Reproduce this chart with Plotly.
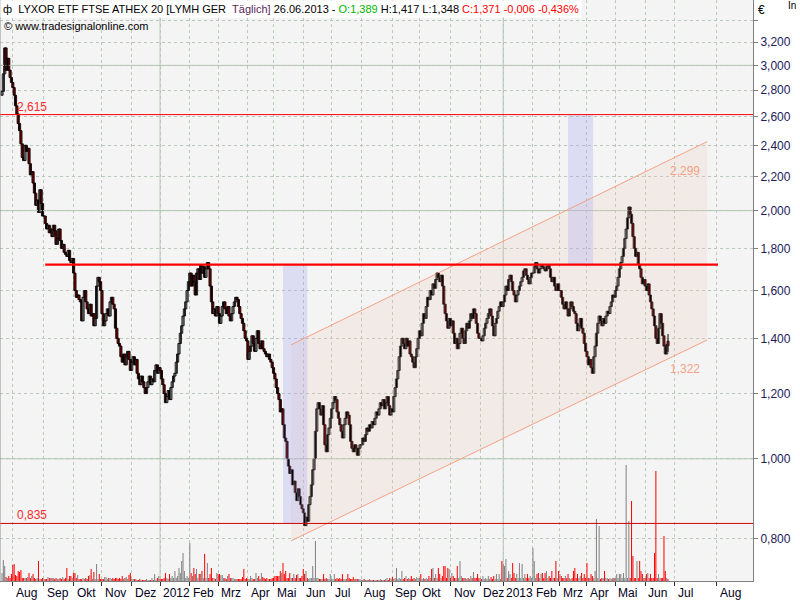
import math
import plotly.graph_objects as go

# ------------------------------------------------------------------
# DATA (daily closes per month; volumes per day)
# ------------------------------------------------------------------
c_2011_07 = [2.79, 2.93, 3.15, 2.96, 3.06, 2.96, 2.90, 2.86]
c_2011_08 = [2.82, 2.76, 2.68, 2.62, 2.55, 2.50, 2.41, 2.32, 2.30, 2.40, 2.36, 2.38, 2.28, 2.21, 2.23, 2.16, 2.10, 2.03, 2.06, 1.99, 2.12, 2.04, 1.97]
c_2011_09 = [1.97, 1.93, 1.90, 1.92, 1.88, 1.90, 1.86, 1.92, 1.89, 1.82, 1.85, 1.90, 1.84, 1.80, 1.82, 1.78, 1.77, 1.76, 1.79, 1.74, 1.73, 1.75]
c_2011_10 = [1.68, 1.60, 1.57, 1.58, 1.56, 1.55, 1.47, 1.57, 1.60, 1.55, 1.52, 1.50, 1.54, 1.49, 1.50, 1.45, 1.48, 1.62, 1.66, 1.64, 1.60]
c_2011_11 = [1.50, 1.45, 1.47, 1.50, 1.52, 1.49, 1.55, 1.57, 1.54, 1.52, 1.44, 1.40, 1.38, 1.37, 1.33, 1.31, 1.34, 1.30, 1.33, 1.35, 1.32, 1.28]
c_2011_12 = [1.31, 1.33, 1.30, 1.32, 1.27, 1.25, 1.23, 1.26, 1.24, 1.22, 1.20, 1.22, 1.24, 1.26, 1.23, 1.25, 1.24, 1.28, 1.30, 1.27, 1.29]
c_2012_01 = [1.28, 1.25, 1.23, 1.20, 1.17, 1.19, 1.21, 1.18, 1.22, 1.24, 1.26, 1.27, 1.31, 1.34, 1.38, 1.42, 1.45, 1.49, 1.52, 1.55, 1.60, 1.64]
c_2012_02 = [1.68, 1.62, 1.67, 1.64, 1.58, 1.68, 1.70, 1.65, 1.72, 1.68, 1.71, 1.66, 1.70, 1.73, 1.70, 1.62, 1.55, 1.50, 1.52, 1.49, 1.53]
c_2012_03 = [1.50, 1.46, 1.49, 1.53, 1.55, 1.52, 1.50, 1.53, 1.49, 1.47, 1.50, 1.53, 1.55, 1.57, 1.56, 1.53, 1.50, 1.48, 1.46, 1.43, 1.40, 1.39]
c_2012_04 = [1.32, 1.35, 1.37, 1.41, 1.38, 1.35, 1.40, 1.43, 1.38, 1.36, 1.39, 1.36, 1.35, 1.34, 1.33, 1.34, 1.32, 1.31, 1.29]
c_2012_05 = [1.27, 1.25, 1.22, 1.20, 1.18, 1.14, 1.15, 1.10, 1.06, 1.05, 1.00, 0.98, 0.96, 0.97, 0.93, 0.94, 0.91, 0.89, 0.92, 0.90, 0.88, 0.87]
c_2012_06 = [0.86, 0.83, 0.85, 0.84, 0.88, 0.90, 0.93, 0.97, 1.00, 1.08, 1.15, 1.17, 1.15, 1.13, 1.16, 1.10, 1.04, 1.02, 1.07, 1.09, 1.12]
c_2012_07 = [1.15, 1.17, 1.19, 1.18, 1.14, 1.12, 1.10, 1.08, 1.06, 1.10, 1.12, 1.14, 1.13, 1.10, 1.05, 1.03, 1.02, 1.04, 1.03, 1.01, 1.03, 1.04]
c_2012_08 = [1.04, 1.06, 1.05, 1.07, 1.09, 1.08, 1.10, 1.09, 1.11, 1.10, 1.12, 1.14, 1.13, 1.15, 1.17, 1.16, 1.18, 1.15, 1.17, 1.19, 1.16, 1.13, 1.15]
c_2012_09 = [1.14, 1.19, 1.22, 1.25, 1.28, 1.33, 1.37, 1.40, 1.38, 1.36, 1.40, 1.37, 1.39, 1.34, 1.33, 1.31, 1.29, 1.33, 1.36, 1.40]
c_2012_10 = [1.43, 1.41, 1.46, 1.50, 1.48, 1.53, 1.57, 1.56, 1.60, 1.58, 1.63, 1.61, 1.65, 1.68, 1.66, 1.64, 1.67, 1.62, 1.54, 1.50, 1.47, 1.44, 1.48]
c_2012_11 = [1.45, 1.47, 1.42, 1.38, 1.40, 1.36, 1.38, 1.42, 1.44, 1.40, 1.38, 1.43, 1.46, 1.44, 1.47, 1.50, 1.48, 1.52, 1.50, 1.46, 1.42, 1.40]
c_2012_12 = [1.40, 1.39, 1.41, 1.44, 1.46, 1.48, 1.50, 1.52, 1.49, 1.45, 1.41, 1.46, 1.48, 1.51, 1.53, 1.55, 1.53]
c_2013_01 = [1.55, 1.58, 1.62, 1.60, 1.65, 1.67, 1.64, 1.60, 1.58, 1.55, 1.58, 1.60, 1.62, 1.64, 1.66, 1.69, 1.70, 1.67, 1.65, 1.63, 1.66, 1.68]
c_2013_02 = [1.68, 1.71, 1.73, 1.70, 1.68, 1.70, 1.72, 1.71, 1.70, 1.69, 1.71, 1.72, 1.70, 1.66, 1.64, 1.66, 1.62, 1.60, 1.63, 1.60]
c_2013_03 = [1.60, 1.57, 1.54, 1.52, 1.55, 1.52, 1.49, 1.52, 1.55, 1.53, 1.51, 1.50, 1.46, 1.43, 1.45, 1.48, 1.44, 1.42, 1.38, 1.35]
c_2013_04 = [1.33, 1.30, 1.32, 1.29, 1.27, 1.33, 1.37, 1.42, 1.46, 1.49, 1.47, 1.45, 1.48, 1.46, 1.49, 1.51, 1.50, 1.53, 1.55, 1.58, 1.57]
c_2013_05 = [1.60, 1.62, 1.66, 1.70, 1.73, 1.76, 1.80, 1.85, 1.90, 1.96, 2.02, 1.98, 1.93, 1.86, 1.80, 1.76, 1.78, 1.72, 1.70, 1.66, 1.63, 1.65]
c_2013_06 = [1.62, 1.60, 1.63, 1.58, 1.55, 1.52, 1.49, 1.45, 1.40, 1.38, 1.44, 1.50, 1.46, 1.41, 1.37, 1.34, 1.377, 1.371]

v_2011_07 = [8, 21, 15, 4, 3, 5, 3, 7]
v_2011_08 = [16, 17, 6, 5, 10, 9, 11, 3, 3, 3, 3, 4, 8, 3, 5, 7, 3, 2, 3, 20, 2, 2, 3]
v_2011_09 = [2, 2, 2, 4, 3, 3, 3, 3, 2, 3, 2, 2, 3, 2, 4, 2, 3, 13, 2, 5, 5, 3]
v_2011_10 = [8, 8, 3, 6, 2, 2, 2, 3, 2, 3, 2, 5, 6, 12, 2, 9, 2, 17, 2, 7, 2]
v_2011_11 = [2, 2, 4, 4, 2, 3, 3, 2, 3, 2, 3, 3, 2, 3, 2, 5, 2, 3, 4, 2, 6, 8]
v_2011_12 = [2, 2, 2, 2, 1, 1, 2, 1, 1, 1, 1, 2, 1, 1, 1, 3, 1, 7, 1, 3, 5]
v_2012_01 = [2, 2, 2, 3, 8, 3, 2, 7, 3, 5, 3, 10, 3, 5, 13, 8, 20, 28, 10, 3, 5, 3]
v_2012_02 = [38, 8, 5, 13, 7, 12, 3, 7, 7, 10, 3, 27, 3, 18, 3, 7, 13, 3, 3, 2, 8]
v_2012_03 = [7, 7, 6, 6, 3, 3, 2, 5, 7, 3, 3, 3, 2, 2, 2, 2, 2, 2, 4, 12, 2, 3]
v_2012_04 = [2, 2, 5, 3, 2, 2, 8, 3, 5, 2, 8, 4, 3, 2, 3, 2, 2, 2, 3]
v_2012_05 = [3, 5, 5, 5, 5, 10, 8, 18, 7, 10, 3, 3, 8, 3, 3, 7, 3, 6, 7, 3, 3, 5]
v_2012_06 = [12, 7, 10, 3, 2, 3, 3, 15, 3, 40, 3, 3, 2, 2, 2, 7, 2, 3, 2, 2, 7]
v_2012_07 = [2, 2, 7, 2, 3, 2, 3, 2, 7, 2, 2, 2, 7, 3, 2, 2, 4, 2, 2, 2, 2, 2]
v_2012_08 = [1, 1, 2, 1, 1, 1, 2, 1, 1, 1, 1, 1, 1, 1, 2, 1, 1, 1, 2, 3, 1, 3, 2]
v_2012_09 = [4, 2, 3, 13, 2, 3, 2, 10, 2, 3, 5, 2, 3, 2, 5, 2, 3, 2, 4, 3]
v_2012_10 = [3, 7, 2, 3, 2, 3, 2, 5, 3, 12, 13, 3, 7, 3, 13, 7, 3, 5, 15, 15, 3, 13, 12]
v_2012_11 = [3, 8, 5, 3, 3, 15, 3, 20, 5, 3, 3, 3, 2, 3, 2, 5, 3, 9, 3, 3, 7, 3]
v_2012_12 = [3, 2, 5, 2, 3, 2, 5, 2, 4, 2, 5, 2, 7, 2, 7, 2, 20]
v_2013_01 = [17, 15, 22, 3, 10, 7, 3, 18, 8, 3, 7, 3, 18, 3, 17, 3, 7, 3, 7, 3, 5, 3]
v_2013_02 = [33, 20, 3, 7, 8, 3, 7, 8, 3, 8, 10, 3, 5, 3, 10, 3, 3, 20, 3, 10]
v_2013_03 = [7, 5, 3, 3, 5, 3, 7, 3, 2, 3, 10, 13, 3, 7, 3, 5, 8, 3, 7, 3]
v_2013_04 = [18, 3, 3, 7, 5, 3, 10, 62, 3, 55, 2, 3, 3, 10, 3, 3, 2, 3, 2, 3, 3]
v_2013_05 = [3, 7, 3, 7, 7, 3, 8, 3, 116, 3, 60, 3, 80, 25, 3, 3, 20, 3, 20, 10, 7, 3]
v_2013_06 = [3, 7, 8, 3, 7, 3, 3, 28, 110, 3, 7, 3, 3, 3, 45, 10, 3, 2]

month_labels = ["", "Aug", "Sep", "Okt", "Nov", "Dez", "2012", "Feb", "Mrz", "Apr", "Mai", "Jun",
                "Jul", "Aug", "Sep", "Okt", "Nov", "Dez", "2013", "Feb", "Mrz", "Apr", "Mai", "Jun"]
future_labels = ["Jul", "Aug"]
future_days = [5, 36]          # calendar days after the last bar (26.06.2013)
year_labels = ["2012", "2013"]

first_open = 2.76
last_open, last_high, last_low, last_close = 1.389, 1.417, 1.348, 1.371
last_change, last_change_pct = -0.006, -0.436

y_ticks = [0.8, 1.0, 1.2, 1.4, 1.6, 1.8, 2.0, 2.2, 2.4, 2.6, 2.8, 3.0, 3.2, 3.4]
solid_levels = [1.0, 2.0, 3.0]

resist_level = 1.72
resist_from, resist_to = 32, 530           # bar indices
top_level = 2.615
bottom_level = 0.835
band1_bars, band2_bars = (208, 226), (419, 437.5)

chan_start = 214
chan_end = 522
chan_upper_start, chan_upper_last = 1.375, 2.299
chan_lower_start, chan_lower_last = 0.7954, 1.322

# ------------------------------------------------------------------
closes_by_month = [c_2011_07, c_2011_08, c_2011_09, c_2011_10, c_2011_11, c_2011_12,
                   c_2012_01, c_2012_02, c_2012_03, c_2012_04, c_2012_05, c_2012_06,
                   c_2012_07, c_2012_08, c_2012_09, c_2012_10, c_2012_11, c_2012_12,
                   c_2013_01, c_2013_02, c_2013_03, c_2013_04, c_2013_05, c_2013_06]
vols_by_month = [v_2011_07, v_2011_08, v_2011_09, v_2011_10, v_2011_11, v_2011_12,
                 v_2012_01, v_2012_02, v_2012_03, v_2012_04, v_2012_05, v_2012_06,
                 v_2012_07, v_2012_08, v_2012_09, v_2012_10, v_2012_11, v_2012_12,
                 v_2013_01, v_2013_02, v_2013_03, v_2013_04, v_2013_05, v_2013_06]

closes, vols, month_start = [], [], []
for cm, vm in zip(closes_by_month, vols_by_month):
    assert len(cm) == len(vm), (len(cm), len(vm))
    month_start.append(len(closes))
    closes += cm
    vols += vm
n = len(closes)
last = n - 1
idx = list(range(n))
opens = [first_open] + closes[:-1]
opens[-1] = last_open
highs = [max(o, c) for o, c in zip(opens, closes)]
lows = [min(o, c) for o, c in zip(opens, closes)]
highs[-1], lows[-1] = last_high, last_low
is_down = [c < o for o, c in zip(opens, closes)]
vol_colors = ["#ff0000" if d else "#808080" for d in is_down]
body_colors = ["#ff0000" if d else "#ffffff" for d in is_down]
body_base = [min(o, c) for o, c in zip(opens, closes)]
body_size = [abs(c - o) for o, c in zip(opens, closes)]

tick_pos = month_start[1:] + [last + d for d in future_days]
tick_txt = month_labels[1:] + future_labels

# layout geometry
W, H = 800, 600
PL, PR, PT, PB = 0, 47, 0, 19
PW, PH = W - PL - PR, H - PT - PB
X_RANGE = [-1.48, 555.9]
Y_RANGE = [math.log10(0.711), math.log10(3.601)]

def px_x(p):
    return p / PW

def px_y(p):
    return 1 - p / PH

def fmt(v, d=3):
    return f"{v:.{d}f}".replace(".", ",")

def chan_val(start, lastv, i):
    a, b = math.log10(start), math.log10(lastv)
    return 10 ** (a + (b - a) * (i - chan_start) / (last - chan_start))

FONT = "Liberation Sans, Arial, sans-serif"
GRID = "#b9c9b9"
fig = go.Figure()

# volume (underlying linear axis)
fig.add_trace(go.Bar(x=idx, y=vols, marker=dict(color=vol_colors, line=dict(width=0)),
                     width=0.75, yaxis="y", xaxis="x", showlegend=False, hoverinfo="skip"))

# solid horizontal grid lines
for lv in solid_levels:
    fig.add_trace(go.Scatter(x=X_RANGE, y=[lv, lv], mode="lines", yaxis="y2",
                             line=dict(color="#b3c6b3", width=1), showlegend=False, hoverinfo="skip"))

# channel fill
cu = [chan_val(chan_upper_start, chan_upper_last, i) for i in (chan_start, chan_end)]
cl = [chan_val(chan_lower_start, chan_lower_last, i) for i in (chan_start, chan_end)]
fig.add_trace(go.Scatter(x=[chan_start, chan_end, chan_end, chan_start, chan_start],
                         y=[cu[0], cu[1], cl[1], cl[0], cu[0]], mode="lines", fill="toself",
                         fillcolor="rgba(235,200,180,0.22)", line=dict(width=0), yaxis="y2",
                         showlegend=False, hoverinfo="skip"))

# blue bands
for (b0, b1), (lo, hi) in [(band1_bars, (bottom_level, resist_level)),
                           (band2_bars, (resist_level, top_level))]:
    fig.add_trace(go.Scatter(x=[b0, b1, b1, b0, b0], y=[lo, lo, hi, hi, lo], mode="lines",
                             fill="toself", fillcolor="rgba(170,170,240,0.32)", line=dict(width=0),
                             yaxis="y2", showlegend=False, hoverinfo="skip"))

# channel lines
for ys in (cu, cl):
    fig.add_trace(go.Scatter(x=[chan_start, chan_end], y=ys, mode="lines", yaxis="y2",
                             line=dict(color="#f3a285", width=1), showlegend=False, hoverinfo="skip"))

# candle wicks (high-low)
wx, wy = [], []
for i in idx:
    wx += [i, i, None]
    wy += [lows[i], highs[i], None]
fig.add_trace(go.Scatter(x=wx, y=wy, mode="lines", yaxis="y2", line=dict(color="#000000", width=1),
                         showlegend=False, hoverinfo="skip"))
# candle bodies (open-close), chronological so later candles overlap earlier ones
fig.add_trace(go.Bar(x=idx, y=body_size, base=body_base, width=1.6, yaxis="y2", xaxis="x",
                     marker=dict(color=body_colors, line=dict(color="#000000", width=0.9)),
                     showlegend=False, hoverinfo="skip"))

# red horizontal lines
fig.add_trace(go.Scatter(x=X_RANGE, y=[top_level, top_level], mode="lines", yaxis="y2",
                         line=dict(color="#ff0000", width=1), showlegend=False, hoverinfo="skip"))
fig.add_trace(go.Scatter(x=X_RANGE, y=[bottom_level, bottom_level], mode="lines", yaxis="y2",
                         line=dict(color="#d00000", width=1), showlegend=False, hoverinfo="skip"))
fig.add_trace(go.Scatter(x=[resist_from, resist_to], y=[resist_level, resist_level], mode="lines",
                         yaxis="y2", line=dict(color="#ff0000", width=2.4), showlegend=False,
                         hoverinfo="skip"))

shapes = []
for yl in year_labels:
    xi = tick_pos[tick_txt.index(yl)]
    shapes.append(dict(type="line", xref="x", yref="paper", x0=xi, x1=xi, y0=0, y1=1,
                       line=dict(color="#b3c6b3", width=1), layer="below"))
shapes.append(dict(type="line", xref="paper", yref="paper", x0=0, x1=0, y0=0, y1=1,
                   line=dict(color="#909090", width=1)))

ann = []
for xp, t in zip(tick_pos, tick_txt):
    ann.append(dict(x=xp, xref="x", y=0, yref="paper", text=t, showarrow=False,
                    xanchor="left", yanchor="middle", xshift=1, yshift=-12,
                    font=dict(family=FONT, size=12, color="#000020")))

title = ("ф  LYXOR ETF FTSE ATHEX 20 [LYMH GER\u00a0\u00a0<span style='color:#5a1f5a'>Täglich]</span> "
         "26.06.2013 - <span style='color:#00b400'>O:" + fmt(last_open) + "</span> H:" + fmt(last_high) +
         " L:" + fmt(last_low) + " <span style='color:#ff0000'>C:" + fmt(last_close) + " " +
         fmt(last_change) + " " + fmt(last_change_pct) + "%</span>")
ann.append(dict(x=0, xref="paper", y=1, yref="paper", text=title, showarrow=False,
                xanchor="left", yanchor="top", bgcolor="#ffffff", borderpad=2,
                font=dict(family=FONT, size=11, color="#000000")))
ann.append(dict(x=px_x(2), xref="paper", y=px_y(26), yref="paper",
                text="© www.tradesignalonline.com", showarrow=False, xanchor="left",
                yanchor="middle", font=dict(family=FONT, size=11, color="#000000")))
ann.append(dict(x=px_x(15), xref="paper", y=math.log10(top_level), yref="y2", text=fmt(top_level),
                showarrow=False, xanchor="left", yanchor="bottom", yshift=-1,
                font=dict(family=FONT, size=12, color="#ff2a2a")))
ann.append(dict(x=px_x(15), xref="paper", y=math.log10(bottom_level), yref="y2",
                text=fmt(bottom_level), showarrow=False, xanchor="left", yanchor="bottom",
                yshift=-1, font=dict(family=FONT, size=12, color="#ff2a2a")))
ann.append(dict(x=last, xref="x", y=math.log10(chan_upper_last), yref="y2",
                text=fmt(chan_upper_last), showarrow=False, xanchor="left", yanchor="top",
                yshift=-1, font=dict(family=FONT, size=12, color="#f3a285")))
ann.append(dict(x=last, xref="x", y=math.log10(chan_lower_last), yref="y2",
                text=fmt(chan_lower_last), showarrow=False, xanchor="left", yanchor="top",
                yshift=-1, font=dict(family=FONT, size=12, color="#f3a285")))
ann.append(dict(x=px_x(756), xref="paper", y=px_y(10), yref="paper", text="€", showarrow=False,
                xanchor="left", yanchor="middle", font=dict(family=FONT, size=12, color="#000000")))
ann.append(dict(x=px_x(786), xref="paper", y=px_y(6), yref="paper", text="In", showarrow=False,
                xanchor="left", yanchor="middle", font=dict(family=FONT, size=10, color="#000000")))

fig.update_layout(
    width=W, height=H, margin=dict(l=PL, r=PR, t=PT, b=PB, autoexpand=False),
    paper_bgcolor="#ffffff", plot_bgcolor="#f4f4f4", showlegend=False,
    barmode="overlay", hovermode=False,
    xaxis=dict(range=X_RANGE, tickvals=tick_pos, showticklabels=False, ticks="outside",
               ticklen=4, tickcolor="#303030", tickwidth=1, showgrid=True, gridcolor=GRID,
               griddash="dot", gridwidth=1, showline=True, linecolor="#808080", linewidth=1,
               zeroline=False, fixedrange=True),
    yaxis=dict(range=[0, 581], visible=False, fixedrange=True),
    yaxis2=dict(overlaying="y", side="right", type="log", range=Y_RANGE,
                tickvals=y_ticks, ticktext=[fmt(v) if v < 3.3 else "" for v in y_ticks],
                ticks="outside", ticklen=4, tickcolor="#808080", showline=True,
                linecolor="#808080", linewidth=1, showgrid=True, gridcolor=GRID,
                griddash="dot", gridwidth=1, zeroline=False, fixedrange=True,
                tickfont=dict(family=FONT, size=12, color="#23195a")),
    shapes=shapes, annotations=ann,
)

fig.write_html("out.html", config={"displayModeBar": False, "staticPlot": True},
               post_script="document.body.style.margin='0';document.body.style.overflow='hidden';")
